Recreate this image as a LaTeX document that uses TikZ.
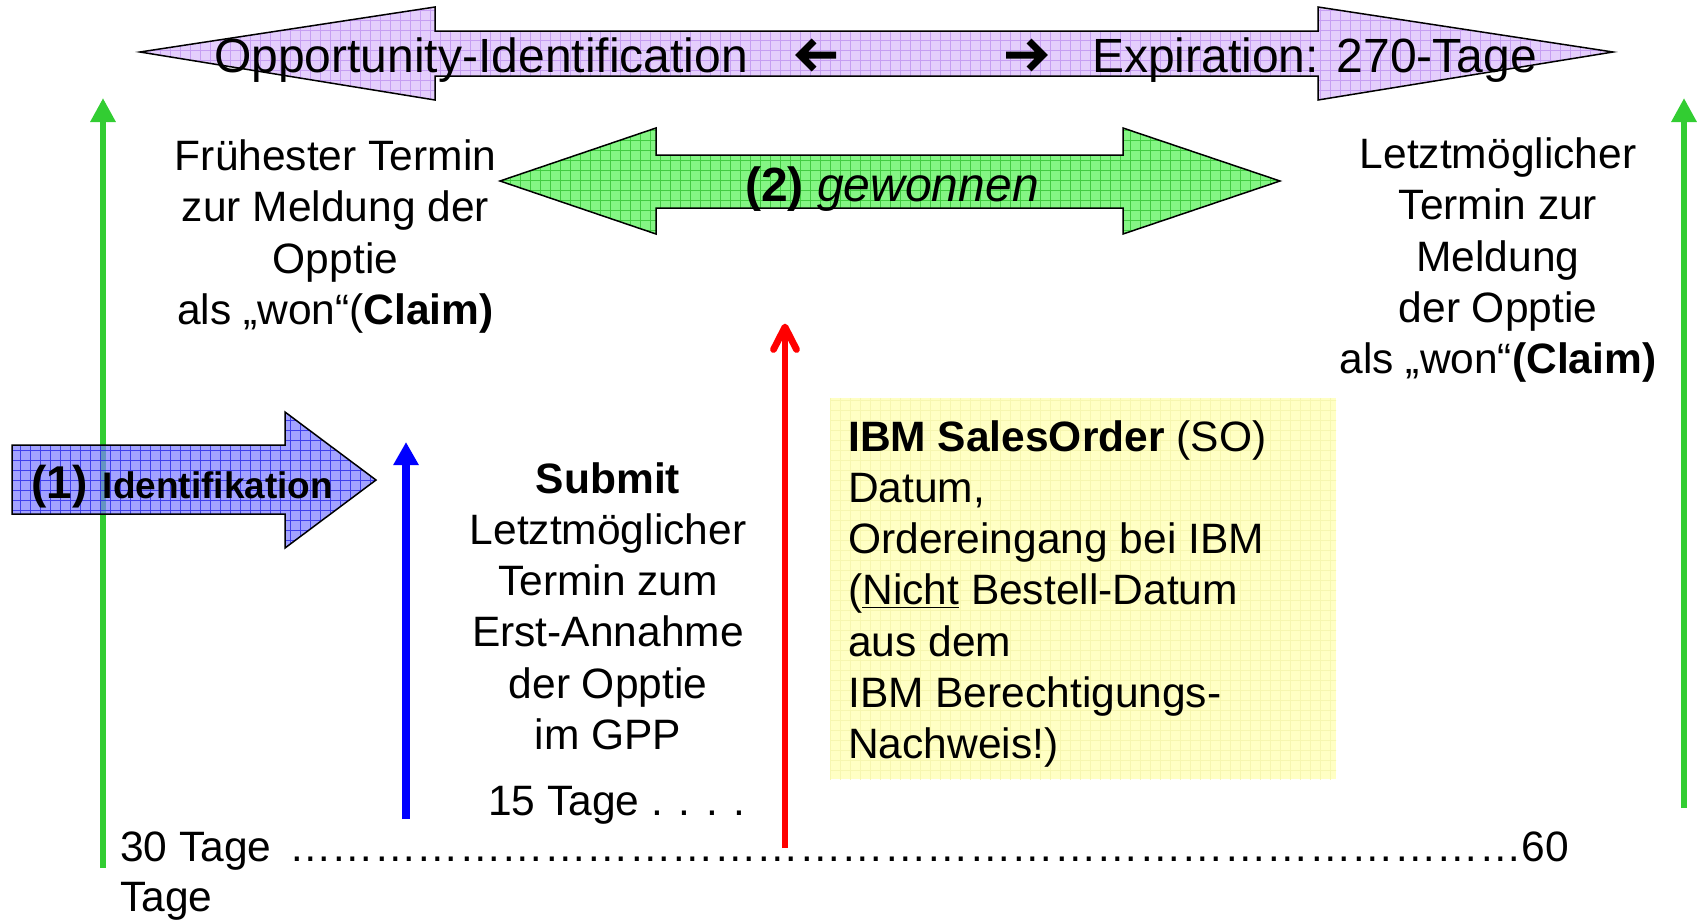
\documentclass[tikz,border=0pt]{standalone}
\usepackage{fontspec}
\setmainfont{Liberation Sans}
\usetikzlibrary{arrows.meta}

\definecolor{lineGreen}{RGB}{50,205,50}
\definecolor{violetFill}{RGB}{228,206,252}
\definecolor{violetGrid}{RGB}{198,158,242}
\definecolor{greenFill}{RGB}{132,246,132}
\definecolor{greenGrid}{RGB}{66,204,66}
\definecolor{blueFill}{RGB}{124,124,255}
\definecolor{blueGrid}{RGB}{40,40,232}
\definecolor{noteFill}{RGB}{255,255,196}
\definecolor{noteGrid}{RGB}{246,246,176}

% filled shape with a fine square grid texture and an optional outline
\newcommand\hatched[4]{%
  \fill[#1] #4;
  \begin{scope}
    \clip #4;
    \draw[#2, line width=0.9pt, step=10pt] (0,919) grid (1697,0);
  \end{scope}
  \draw[#3] #4;
}

\tikzset{
  body/.style={inner sep=0pt, font=\fontsize{42.5}{51.3}\selectfont},
  big/.style={inner sep=0pt, font=\fontsize{48}{58}\selectfont},
  outline/.style={draw=black, line width=1.5pt, line join=miter},
  nooutline/.style={draw=none},
  marker/.style={line width=6.8pt},
  heavyarrow/.style={draw=black, line width=7pt, line join=miter},
}

\begin{document}
\begin{tikzpicture}[x=1pt, y=-1pt]
\useasboundingbox (0,0) rectangle (1697,919);

% --- double arrow: opportunity lifetime
\hatched{violetFill}{violetGrid}{outline}{(140,52) -- (435,7) -- (435,31) -- (1318,31) -- (1318,7) -- (1613,52) -- (1318,100) -- (1318,76) -- (435,76) -- (435,100) -- cycle}

% --- double arrow: won phase
\hatched{greenFill}{greenGrid}{outline}{(500,181) -- (656,128) -- (656,155) -- (1123,155) -- (1123,128) -- (1280,181) -- (1123,234) -- (1123,208) -- (656,208) -- (656,234) -- cycle}

% --- sales order note
\hatched{noteFill}{noteGrid}{nooutline}{(830,398) rectangle (1336,779)}

% --- time markers
\coordinate (gLbot) at (103,868);
\coordinate (gLtop) at (103,98);
\coordinate (gRbot) at (1684,808);
\coordinate (gRtop) at (1684,98);
\coordinate (bBot) at (406,819);
\coordinate (bTop) at (406,442);
\coordinate (rBot) at (785,848);
\coordinate (rTop) at (785,327);
\coordinate (rWingL) at (773.5,349.5);
\coordinate (rWingR) at (796.5,349.5);

\draw[marker, lineGreen, -{Triangle[length=24pt, width=24pt]}] (gLbot) -- (gLtop);
\draw[marker, lineGreen, -{Triangle[length=24pt, width=24pt]}] (gRbot) -- (gRtop);
\draw[marker, blue, line width=7.5pt, -{Triangle[length=23pt, width=24pt]}] (bBot) -- (bTop);
\draw[marker, red] (rBot) -- ([yshift=-2pt]rTop);
\draw[marker, red, line cap=round, line join=round] (rWingL) -- (rTop) -- (rWingR);

% --- single arrow: identification phase
\hatched{blueFill, fill opacity=0.7}{blueGrid, opacity=0.8}{outline}{(12,445) -- (285,445) -- (285,412) -- (376,480) -- (285,548) -- (285,514) -- (12,514) -- cycle}

% --- labels on the top arrow
\node[big, anchor=base west] (oppid) at (214,72) {Opportunity-Identification};
\node[big, anchor=base west] (expir) at (1092,72) {Expiration: 270-Tage};
\coordinate (laEnd) at (836,55);
\coordinate (laTip) at (800,55);
\coordinate (raStart) at (1006,55);
\coordinate (raTip) at (1043,55);
\draw[heavyarrow] (laEnd) -- ([xshift=2pt]laTip)
  ([xshift=14pt, yshift=-14pt]laTip) -- (laTip) -- ([xshift=14pt, yshift=14pt]laTip);
\draw[heavyarrow] (raStart) -- ([xshift=-2pt]raTip)
  ([xshift=-14pt, yshift=-14pt]raTip) -- (raTip) -- ([xshift=-14pt, yshift=14pt]raTip);

\node[big, anchor=base] (won) at (892,201) {\textbf{(2)} \textit{gewonnen}};

\node[inner sep=0pt, anchor=base west] (ident) at (31,498)
  {\bfseries\fontsize{46}{55}\selectfont (1)\hspace{15.5pt}\fontsize{37}{44}\selectfont Identifikation};

% --- text blocks
\node[body, align=center, anchor=north] (earliest) at (335.5,139.5)
  {Frühester Termin\\zur Meldung der\\Opptie\\als „won“(\textbf{Claim)}};

\node[body, align=center, anchor=north] (latest) at (1498,137.5)
  {Letztmöglicher\\Termin zur\\Meldung\\der Opptie\\als „won“\textbf{(Claim)}};

\node[body, align=center, anchor=north] (submit) at (608,462)
  {\textbf{Submit}\\Letztmöglicher\\Termin zum\\Erst-Annahme\\der Opptie\\im GPP};

\node[body, anchor=base west] (fifteen) at (488,815) {15 Tage . . . .};

\node[body, align=left, anchor=north west] (sotext) at (848,420)
  {\textbf{IBM SalesOrder} (SO)\\Datum,\\Ordereingang bei IBM\\(\underline{Nicht} Bestell-Datum\\aus dem\\IBM Berechtigungs-\\Nachweis!)};

\node[inner sep=0pt, align=left, anchor=north west, font=\fontsize{42.5}{50}\selectfont] (range) at (120,831.5)
  {30 Tage\hspace{6pt} \foreach \k in {1,...,29}{…}60\\Tage};

\end{tikzpicture}
\end{document}
